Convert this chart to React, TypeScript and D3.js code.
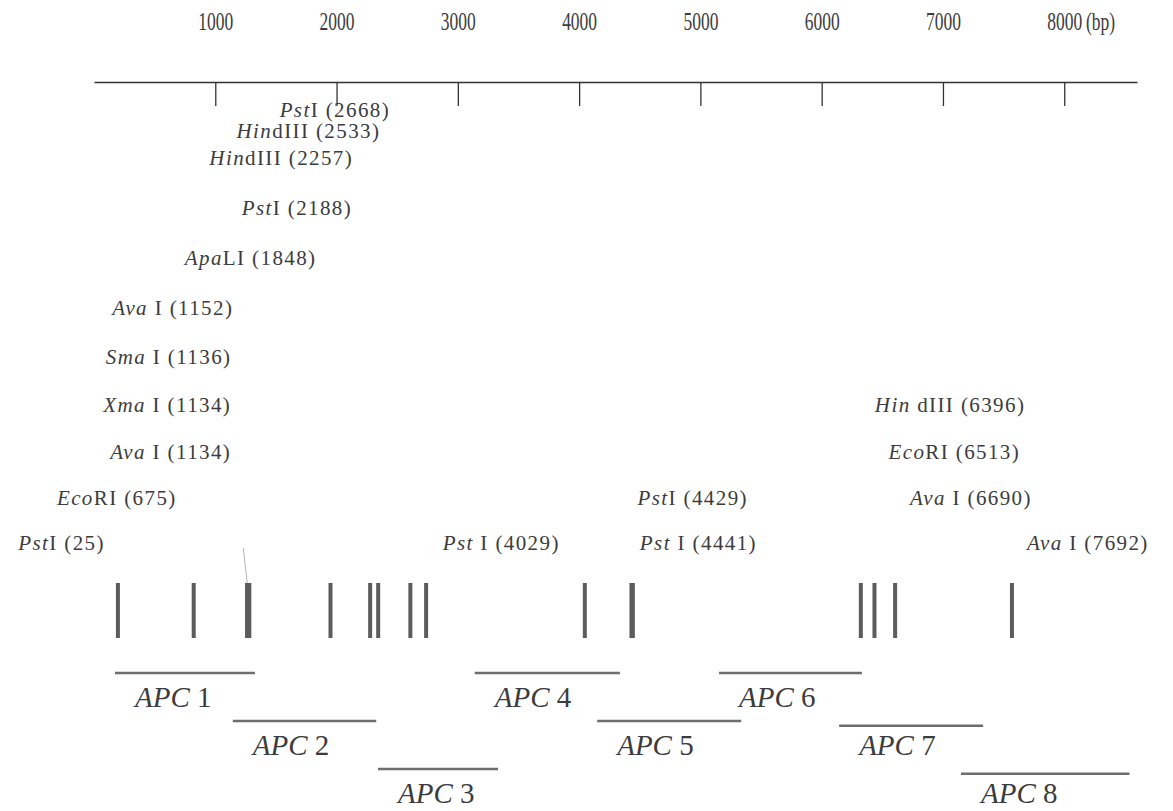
import * as d3 from "d3";
import React, { useEffect, useRef } from "react";

// restriction sites (bp) and the enzyme that cuts there
const siteEnzymes = [
  "PstI", "EcoRI", "AvaI", "XmaI", "SmaI", "AvaI", "ApaLI", "PstI", "HindIII",
  "HindIII", "PstI", "PstI", "PstI", "PstI", "HindIII", "EcoRI", "AvaI", "AvaI",
];
const sitePositions = [
  25, 675, 1134, 1134, 1136, 1152, 1848, 2188, 2257, 2533, 2668, 4029, 4429,
  4441, 6396, 6513, 6690, 7692,
];

// APC fragments
const fragmentNames = ["1", "2", "3", "4", "5", "6", "7", "8"];
const fragmentStart = [0, 1010, 2255, 3085, 4135, 5180, 6210, 7255];
const fragmentEnd = [1200, 2240, 3285, 4330, 5370, 6405, 7445, 8700];

const axisTicks = [1000, 2000, 3000, 4000, 5000, 6000, 7000, 8000];

// label layout: row above the map, which side of the site, extra nudge (px)
const labelRow = [0, 1, 2, 3, 4, 5, 6, 7, 8, 8.54, 8.98, 0, 1, 0, 3, 2, 1, 0];
const labelSide = [
  "L", "L", "L", "L", "L", "L", "L", "L", "L", "L", "L", "L", "R", "R", "R", "R", "R", "R",
];
const labelNudge = [3, -1, 0, 0, 0, 0, 2, -2, -9, -14, -20, -9, -8, -7, 0, 0, 1, 1];
// a space between the italic part and the rest in some labels
const labelGap = [0, 0, 1, 1, 1, 1, 0, 0, 0, 0, 0, 1, 0, 1, 1, 0, 1, 1];

const fragmentRow = [0, 1, 2, 0, 1, 0, 1.1, 2.1];

const W = 1173;
const H = 811;
const serif = "'Liberation Serif', 'Times New Roman', serif";
const ink = "#3c3c3c";

export default function App() {
  const axisRef = useRef<SVGGElement>(null);

  const axisScale = d3.scaleLinear().domain([0, 8600]).range([94, 1137]);
  const mapScale = d3.scaleLinear().domain([0, 8700]).range([115, 1129.5]);
  const rowY = d3.scaleLinear().domain([0, 2, 4, 8]).range([543, 452, 357, 158]);
  const fragY = d3.scaleLinear().domain([0, 2]).range([673, 769]);

  const barTop = 583;
  const barBottom = 638;

  useEffect(() => {
    const g = d3.select(axisRef.current);
    g.selectAll("*").remove();
    g.call(
      d3
        .axisTop(axisScale)
        .tickValues(axisTicks)
        .tickSizeInner(-24)
        .tickSizeOuter(0)
        .tickPadding(52)
        .tickFormat(d3.format("d"))
    );
    g.select(".domain").attr("stroke", "#333").attr("stroke-width", 1.6);
    g.selectAll(".tick line").attr("stroke", "#333").attr("stroke-width", 1.3);
    // the scale labels are set in a tall, narrow face
    g.selectAll(".tick text")
      .attr("font-family", serif)
      .attr("font-size", 25)
      .attr("transform", "scale(0.7,1)")
      .attr("fill", ink);
  }, []);

  return (
    <svg
      width={W}
      height={H}
      style={{ position: "absolute", left: 0, top: 0, background: "#fff" }}
    >
      <g ref={axisRef} transform="translate(0,82)" />
      <text
        transform="translate(1086,30) scale(0.7,1)"
        fontFamily={serif}
        fontSize={25}
        fill={ink}
      >
        (bp)
      </text>

      {/* enzyme labels */}
      {sitePositions.map((p, i) => {
        const name = siteEnzymes[i];
        const left = labelSide[i] === "L";
        const x = mapScale(p) + (left ? -16 : 14) + labelNudge[i];
        return (
          <text
            key={"l" + i}
            x={x}
            y={rowY(labelRow[i])}
            dy="0.35em"
            textAnchor={left ? "end" : "start"}
            fontFamily={serif}
            fontSize={21}
            letterSpacing={1.4}
            fill={ink}
          >
            <tspan fontStyle="italic">{name.slice(0, 3)}</tspan>
            <tspan>{(labelGap[i] ? " " : "") + name.slice(3) + " (" + p + ")"}</tspan>
          </text>
        );
      })}

      {/* faint leader to the AvaI/XmaI/SmaI cluster */}
      <line
        x1={mapScale(1134) - 4}
        x2={mapScale(1134)}
        y1={rowY(0) + 5}
        y2={barTop}
        stroke="#b5b5b5"
        strokeWidth={1}
      />

      {/* cut sites */}
      {sitePositions.map((p, i) => (
        <line
          key={"s" + i}
          x1={mapScale(p)}
          x2={mapScale(p)}
          y1={barTop}
          y2={barBottom}
          stroke="#5c5c5c"
          strokeWidth={4}
        />
      ))}

      {/* APC fragments */}
      {fragmentNames.map((n, i) => (
        <g key={"f" + i}>
          <line
            x1={mapScale(fragmentStart[i])}
            x2={mapScale(fragmentEnd[i])}
            y1={fragY(fragmentRow[i])}
            y2={fragY(fragmentRow[i])}
            stroke="#6e6e6e"
            strokeWidth={2.6}
          />
          <text
            x={mapScale(fragmentStart[i]) + 20}
            y={fragY(Math.round(fragmentRow[i])) + 34}
            fontFamily={serif}
            fontSize={29}
            fill={ink}
          >
            <tspan fontStyle="italic">APC</tspan>
            <tspan>{" " + n}</tspan>
          </text>
        </g>
      ))}
    </svg>
  );
}
